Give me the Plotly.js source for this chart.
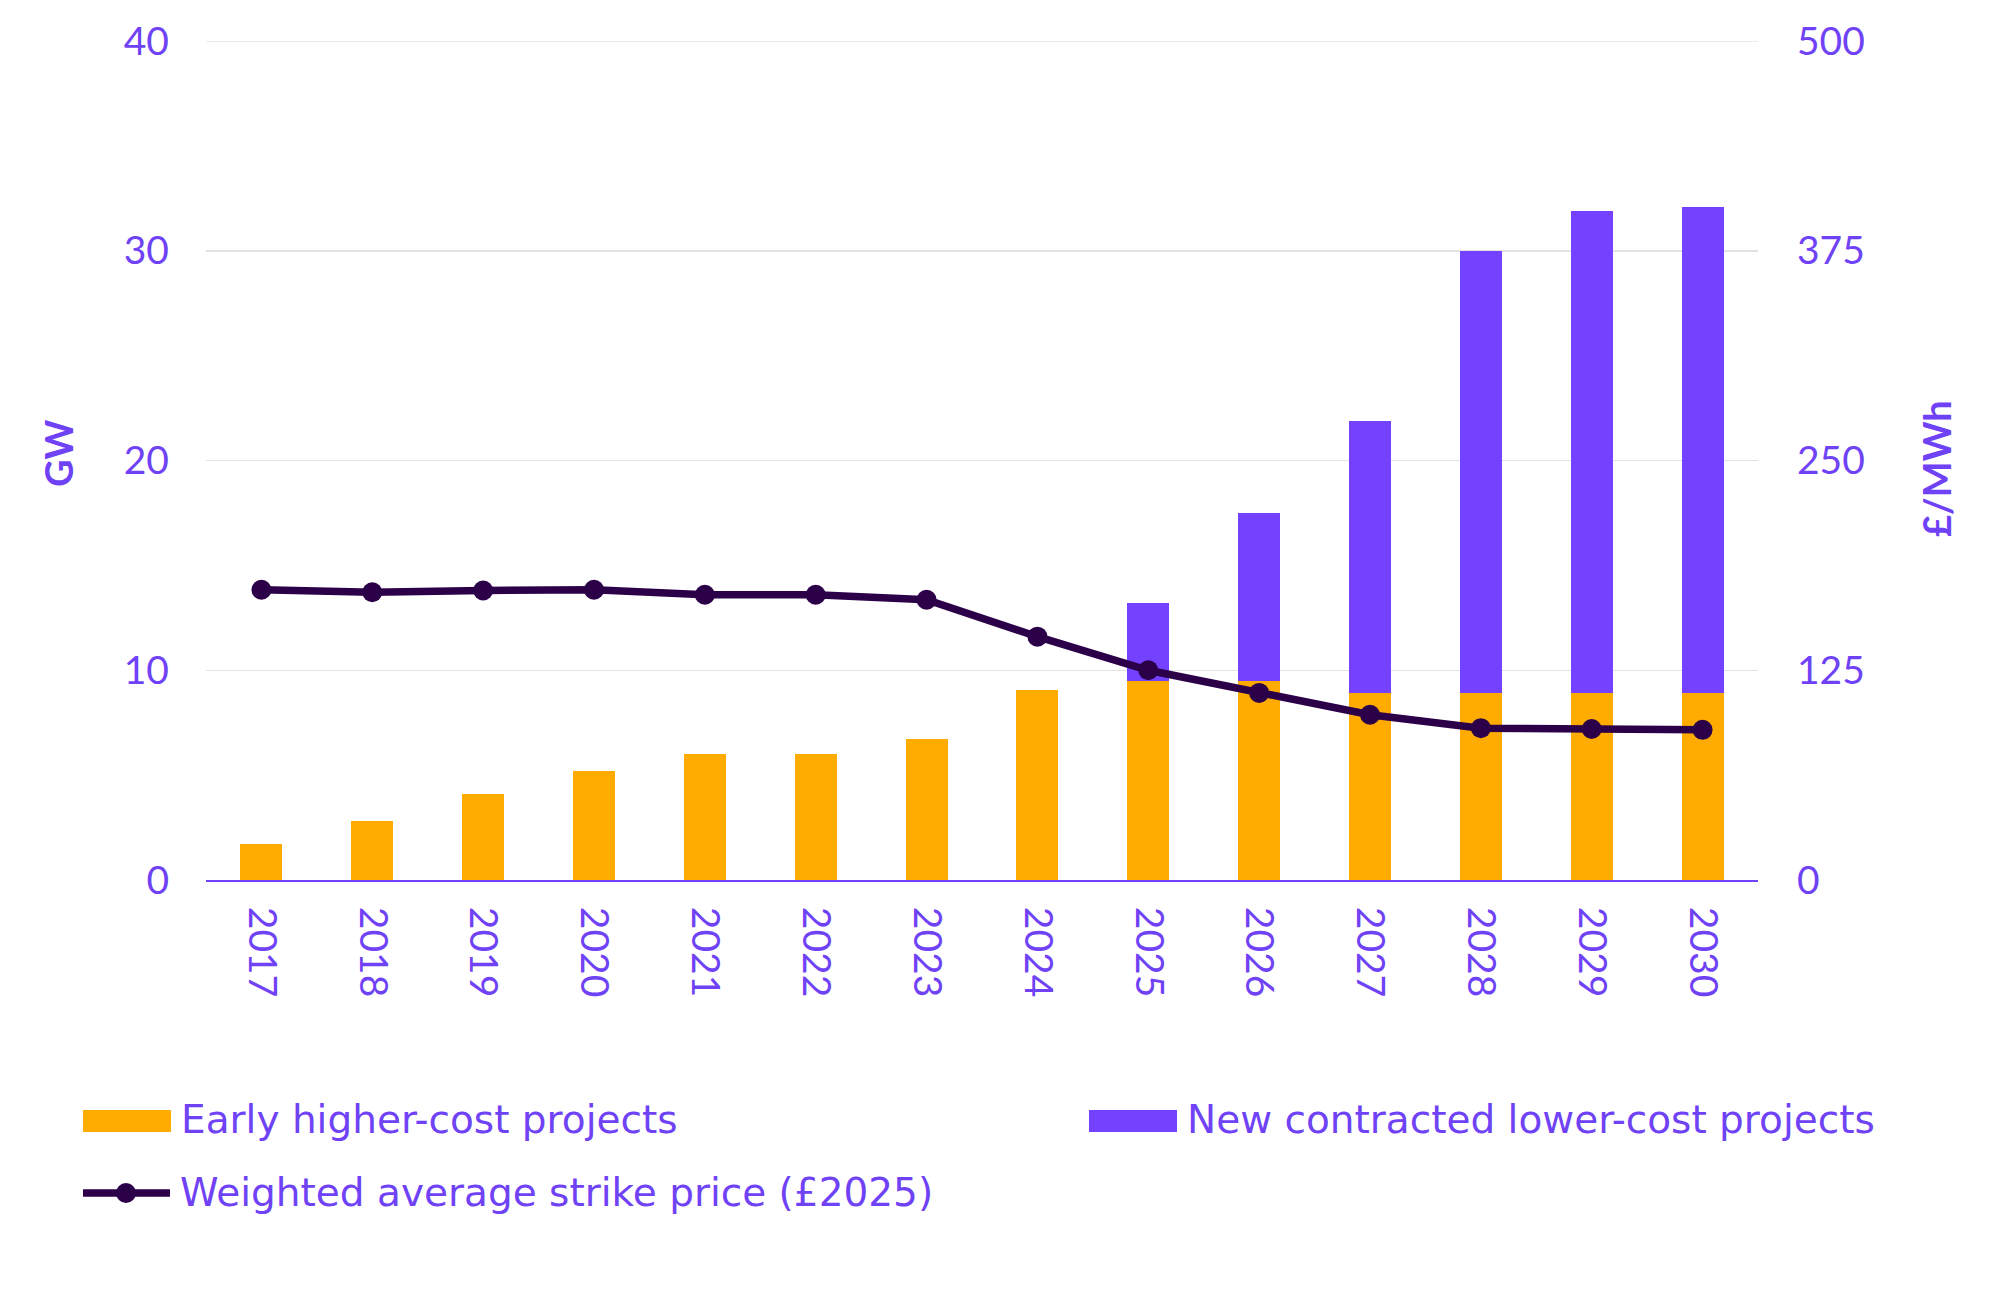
<!DOCTYPE html>
<html>
<head>
<meta charset="utf-8">
<script src="https://cdn.plot.ly/plotly-3.0.1.min.js"></script>
<style>
  html, body { margin: 0; padding: 0; background: #ffffff; }
  #chart { width: 2014px; height: 1299px; }
</style>
</head>
<body>
<div id="chart"></div>
<script>
// Capacity (GW) by year, split by project type, plus average strike price (£/MWh, 2025 prices)
const years = ['2017', '2018', '2019', '2020', '2021', '2022', '2023', '2024', '2025', '2026', '2027', '2028', '2029', '2030'];
const earlyHigherCost = [1.7, 2.8, 4.1, 5.2, 6.0, 6.0, 6.7, 9.05, 9.5, 9.5, 8.9, 8.9, 8.9, 8.9];
const newLowerCost = [0, 0, 0, 0, 0, 0, 0, 0, 3.7, 8.0, 13.0, 21.1, 23.0, 23.2];
const strikePrice = [173, 171.5, 172.5, 173, 170, 170, 167, 145, 125, 111.5, 98.5, 90.5, 90, 89.5];

const gwTicks = [0, 10, 20, 30, 40];
const priceTicks = [0, 125, 250, 375, 500];

const seriesNames = [
  'Early higher-cost projects',
  'New contracted lower-cost projects',
  'Weighted average strike price (£2025)'
];

const YELLOW = '#FFAB00';
const VIOLET = '#7442FF';
const INK = '#2B0049';
const TEXT = '#6F42F6';
const GRID = '#E3E3E3';
const TICK_FONT = 'Lato, "Open Sans", sans-serif';
const LABEL_FONT = '"DejaVu Sans", Lato, sans-serif';

const traces = [
  {
    type: 'bar', name: seriesNames[0], x: years, y: earlyHigherCost,
    marker: { color: YELLOW }, yaxis: 'y', hoverinfo: 'skip'
  },
  {
    type: 'bar', name: seriesNames[1], x: years, y: newLowerCost,
    marker: { color: VIOLET }, yaxis: 'y', hoverinfo: 'skip'
  },
  {
    type: 'scatter', mode: 'lines+markers', name: seriesNames[2], x: years, y: strikePrice,
    yaxis: 'y2', line: { color: INK, width: 7.5 }, marker: { color: INK, size: 20 },
    hoverinfo: 'skip'
  }
];

// Plot area edges in pixels, used for placing the hand-built legend
const M = { l: 206, r: 256, t: 41, b: 419 };
const plotBottom = 1299 - M.b;

function px(yPx) { return plotBottom - yPx; }

const shapes = [
  // top gridline at the upper end of the GW range
  { type: 'line', xref: 'paper', yref: 'y', x0: 0, x1: 1, y0: gwTicks[gwTicks.length - 1],
    y1: gwTicks[gwTicks.length - 1], line: { color: GRID, width: 1.5 }, layer: 'below' },
  // legend swatches
  { type: 'rect', xref: 'paper', yref: 'paper', xsizemode: 'pixel', ysizemode: 'pixel',
    xanchor: 0, yanchor: 0, x0: 83 - M.l, x1: 171 - M.l, y0: px(1132), y1: px(1110),
    fillcolor: YELLOW, line: { width: 0 } },
  { type: 'rect', xref: 'paper', yref: 'paper', xsizemode: 'pixel', ysizemode: 'pixel',
    xanchor: 0, yanchor: 0, x0: 1089 - M.l, x1: 1177 - M.l, y0: px(1132), y1: px(1110),
    fillcolor: VIOLET, line: { width: 0 } },
  { type: 'line', xref: 'paper', yref: 'paper', xsizemode: 'pixel', ysizemode: 'pixel',
    xanchor: 0, yanchor: 0, x0: 83 - M.l, x1: 170 - M.l, y0: px(1193), y1: px(1193),
    line: { color: INK, width: 7.5 } },
  { type: 'circle', xref: 'paper', yref: 'paper', xsizemode: 'pixel', ysizemode: 'pixel',
    xanchor: 0, yanchor: 0, x0: 116 - M.l, x1: 136 - M.l, y0: px(1203), y1: px(1183),
    fillcolor: INK, line: { width: 0 } }
];

const legendFont = { family: LABEL_FONT, size: 39, color: TEXT };
const annotations = [
  { text: seriesNames[0], xref: 'paper', yref: 'paper', x: 0, y: 0, xanchor: 'left', yanchor: 'middle',
    xshift: 179 - M.l, yshift: px(1119), showarrow: false, font: legendFont },
  { text: seriesNames[1], xref: 'paper', yref: 'paper', x: 0, y: 0, xanchor: 'left', yanchor: 'middle',
    xshift: 1185 - M.l, yshift: px(1119), showarrow: false, font: legendFont },
  { text: seriesNames[2], xref: 'paper', yref: 'paper', x: 0, y: 0, xanchor: 'left', yanchor: 'middle',
    xshift: 178 - M.l, yshift: px(1192), showarrow: false, font: legendFont },
  // axis titles
  { text: '<b>GW</b>', xref: 'paper', yref: 'paper', x: 0, y: 0, xanchor: 'center', yanchor: 'middle',
    xshift: 58 - M.l, yshift: px(454), textangle: -90, showarrow: false,
    font: { family: TICK_FONT, size: 38, color: TEXT } },
  { text: '<b>£/MWh</b>', xref: 'paper', yref: 'paper', x: 1, y: 0, xanchor: 'center', yanchor: 'middle',
    xshift: 1936 - (2014 - M.r), yshift: px(469), textangle: -90, showarrow: false,
    font: { family: TICK_FONT, size: 38, color: TEXT } }
];

const tickFont = { family: TICK_FONT, size: 39, color: TEXT };

const layout = {
  width: 2014, height: 1299,
  margin: M,
  paper_bgcolor: '#ffffff', plot_bgcolor: '#ffffff',
  barmode: 'stack', bargap: 0.62,
  showlegend: false,
  font: { family: TICK_FONT, color: TEXT },
  xaxis: {
    type: 'category', range: [-0.5, years.length - 0.5], tickangle: 90, tickfont: tickFont,
    showgrid: false, showline: true, linecolor: '#7142FA', linewidth: 2,
    ticks: '', ticklabelstandoff: 17, zeroline: false, fixedrange: true
  },
  yaxis: {
    range: [0, 40], tickvals: gwTicks, ticktext: gwTicks.map(String), tickfont: tickFont,
    showgrid: true, gridcolor: GRID, gridwidth: 1.5,
    zeroline: false, showline: false, ticks: '', ticklabelstandoff: 36, fixedrange: true
  },
  yaxis2: {
    overlaying: 'y', side: 'right', range: [0, 500],
    tickvals: priceTicks, ticktext: priceTicks.map(String), tickfont: tickFont,
    showgrid: false, zeroline: false, showline: false, ticks: '',
    ticklabelstandoff: 38, fixedrange: true
  },
  shapes: shapes,
  annotations: annotations
};

Plotly.newPlot('chart', traces, layout, { staticPlot: true, displayModeBar: false });
</script>
</body>
</html>
